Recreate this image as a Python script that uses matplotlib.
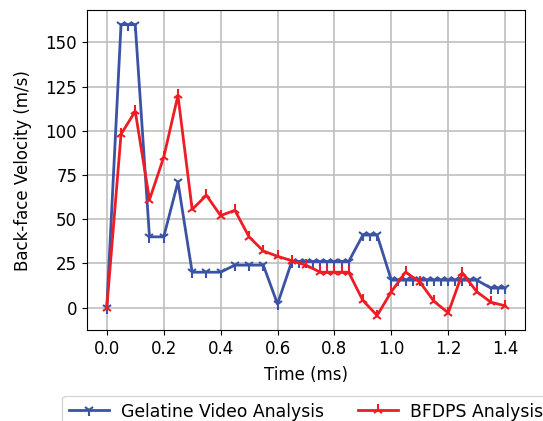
import matplotlib.pyplot as plt

# Gelatine video analysis (blue)
tVideo = [0, 0.05, 0.075, 0.1, 0.15, 0.2, 0.25, 0.3, 0.35, 0.4, 0.45, 0.5, 0.55, 0.6,
          0.65, 0.675, 0.7, 0.725, 0.75, 0.775, 0.8, 0.825, 0.85,
          0.9, 0.925, 0.95,
          1.0, 1.025, 1.05, 1.075, 1.1, 1.125, 1.15, 1.175, 1.2, 1.225, 1.25, 1.275, 1.3,
          1.35, 1.375, 1.4]
vVideo = [0, 160, 160, 160, 40, 40, 71, 20, 20, 20, 24, 24, 24, 2,
          26, 26, 26, 26, 26, 26, 26, 26, 26,
          41, 41, 41,
          15.5, 15.5, 15.5, 15.5, 15.5, 15.5, 15.5, 15.5, 15.5, 15.5, 15.5, 15.5, 15.5,
          11, 11, 11]

# BFDPS analysis (red)
tBfdps = [0, 0.05, 0.1, 0.15, 0.2, 0.25, 0.3, 0.35, 0.4, 0.45, 0.5, 0.55, 0.6, 0.65, 0.7,
          0.75, 0.775, 0.8, 0.825, 0.85, 0.9, 0.95, 1.0, 1.05, 1.1, 1.15, 1.2, 1.25, 1.3, 1.35, 1.4]
vBfdps = [0, 98, 111, 61, 85, 120, 55.5, 63.5, 52, 55, 40, 32, 29, 26.5, 24,
          20, 20, 20, 20, 20, 4, -4.5, 9, 20, 14.5, 3.5, -3, 19.5, 9, 3, 1]

fig = plt.figure(figsize=(5.43, 4.21), dpi=100)
ax = fig.add_axes([0.16, 0.216, 0.807, 0.76])

ax.plot(tVideo, vVideo, color='#3a53a4', lw=2, marker='1', ms=8, mew=1.5,
        label='Gelatine Video Analysis')
ax.plot(tBfdps, vBfdps, color='#ee1c25', lw=2, marker='2', ms=8, mew=1.5,
        label='BFDPS Analysis')

ax.grid(True, color='#bfbfbf', lw=1.2)
ax.set_axisbelow(True)
ax.set_xticks([0.0, 0.2, 0.4, 0.6, 0.8, 1.0, 1.2, 1.4])
ax.set_yticks([0, 25, 50, 75, 100, 125, 150])
ax.tick_params(labelsize=12)
ax.set_xlabel('Time (ms)', fontsize=12, labelpad=6)
ax.set_ylabel('Back-face Velocity (m/s)', fontsize=12, labelpad=10)
ax.legend(loc='upper center', bbox_to_anchor=(0.5, -0.178), ncol=2, fontsize=12.4,
          handlelength=2.3, handletextpad=0.7)

fig.savefig('out.png', dpi=100)
